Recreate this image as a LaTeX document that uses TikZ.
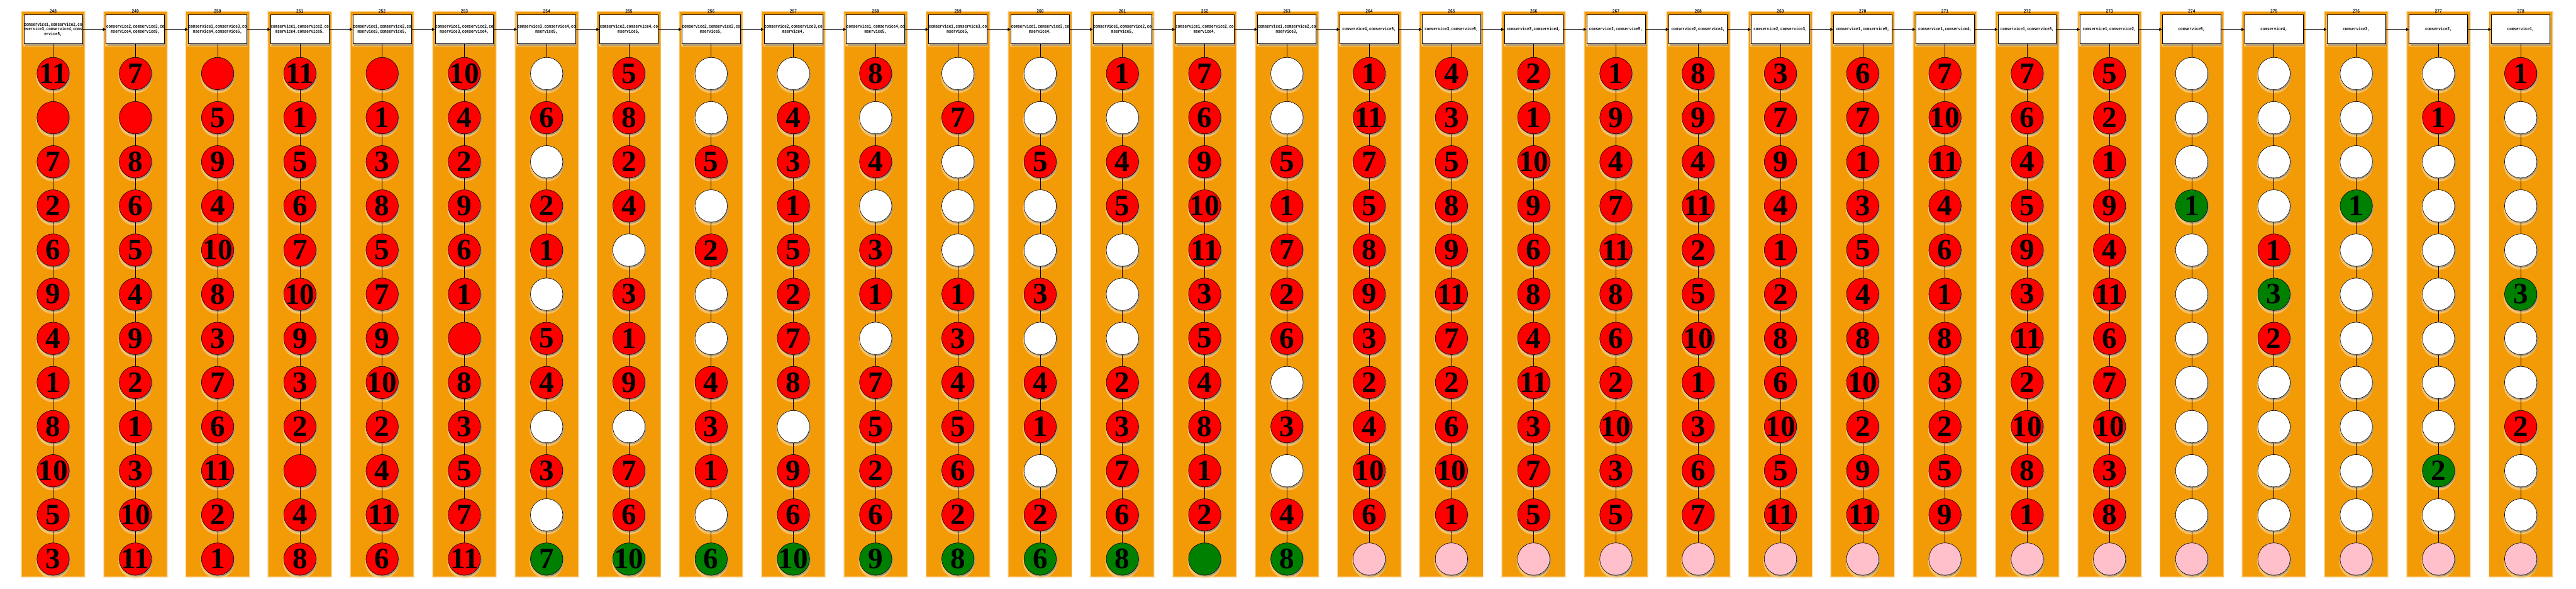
\documentclass[tikz,border=0pt]{standalone}
\usepackage{fontspec}
\usepackage{xcolor}
\usepackage{tikz}
\usetikzlibrary{arrows.meta, positioning, shadows}
\newfontfamily\hdrfont[FakeStretch=0.8]{Liberation Mono}
\newfontfamily\numfont{Liberation Serif}
\definecolor{bandorg}{RGB}{243,155,7}
\definecolor{rd}{RGB}{255,0,0}
\definecolor{wt}{RGB}{255,255,255}
\definecolor{gn}{RGB}{0,128,0}
\definecolor{pk}{RGB}{255,192,203}
\tikzset{
  hdrbox/.style={rectangle, draw=black, fill=white, line width=0.4pt,
    minimum width=1.59cm, minimum height=0.79cm, inner sep=0pt, align=center,
    font=\hdrfont\bfseries\fontsize{3.6}{3.7}\selectfont,
    general shadow={shadow scale=1.03, shadow yshift=-0.05cm, fill=bandorg!35!white, opacity=0.6},
    drop shadow={shadow xshift=0.03cm, shadow yshift=-0.05cm, opacity=0.55}},
  hdrnum/.style={font=\hdrfont\bfseries\fontsize{3.8}{4}\selectfont, inner sep=0pt},
  dot/.style={circle, draw=black, line width=0.3pt, minimum size=0.88cm, inner sep=0pt,
    general shadow={shadow scale=1.05, shadow yshift=-0.07cm, fill=bandorg!35!white, opacity=0.6},
    drop shadow={shadow xshift=0.03cm, shadow yshift=-0.04cm, opacity=0.6}},
  digit/.style={font=\numfont\bfseries\fontsize{23}{23}\selectfont, inner sep=0pt},
  link/.style={line width=0.3pt, black},
  nextarrow/.style={-{Triangle[length=0.08cm, width=0.08cm]}, line width=0.35pt, black}
}

\begin{document}
\begin{tikzpicture}
  \useasboundingbox (0,0) rectangle (70.08,-16);
  \foreach \hdr/\dotlist [count=\i from 0] in {
    {comservice1,comservice2,co\\mservice3,comservice4,coms\\ervice5,}/{rd/11,rd/,rd/7,rd/2,rd/6,rd/9,rd/4,rd/1,rd/8,rd/10,rd/5,rd/3},
    {comservice2,comservice3,co\\mservice4,comservice5,}/{rd/7,rd/,rd/8,rd/6,rd/5,rd/4,rd/9,rd/2,rd/1,rd/3,rd/10,rd/11},
    {comservice1,comservice3,co\\mservice4,comservice5,}/{rd/,rd/5,rd/9,rd/4,rd/10,rd/8,rd/3,rd/7,rd/6,rd/11,rd/2,rd/1},
    {comservice1,comservice2,co\\mservice4,comservice5,}/{rd/11,rd/1,rd/5,rd/6,rd/7,rd/10,rd/9,rd/3,rd/2,rd/,rd/4,rd/8},
    {comservice1,comservice2,co\\mservice3,comservice5,}/{rd/,rd/1,rd/3,rd/8,rd/5,rd/7,rd/9,rd/10,rd/2,rd/4,rd/11,rd/6},
    {comservice1,comservice2,co\\mservice3,comservice4,}/{rd/10,rd/4,rd/2,rd/9,rd/6,rd/1,rd/,rd/8,rd/3,rd/5,rd/7,rd/11},
    {comservice3,comservice4,co\\mservice5,}/{wt/,rd/6,wt/,rd/2,rd/1,wt/,rd/5,rd/4,wt/,rd/3,wt/,gn/7},
    {comservice2,comservice4,co\\mservice5,}/{rd/5,rd/8,rd/2,rd/4,wt/,rd/3,rd/1,rd/9,wt/,rd/7,rd/6,gn/10},
    {comservice2,comservice3,co\\mservice5,}/{wt/,wt/,rd/5,wt/,rd/2,wt/,wt/,rd/4,rd/3,rd/1,wt/,gn/6},
    {comservice2,comservice3,co\\mservice4,}/{wt/,rd/4,rd/3,rd/1,rd/5,rd/2,rd/7,rd/8,wt/,rd/9,rd/6,gn/10},
    {comservice1,comservice4,co\\mservice5,}/{rd/8,wt/,rd/4,wt/,rd/3,rd/1,wt/,rd/7,rd/5,rd/2,rd/6,gn/9},
    {comservice1,comservice3,co\\mservice5,}/{wt/,rd/7,wt/,wt/,wt/,rd/1,rd/3,rd/4,rd/5,rd/6,rd/2,gn/8},
    {comservice1,comservice3,co\\mservice4,}/{wt/,wt/,rd/5,wt/,wt/,rd/3,wt/,rd/4,rd/1,wt/,rd/2,gn/6},
    {comservice1,comservice2,co\\mservice5,}/{rd/1,wt/,rd/4,rd/5,wt/,wt/,wt/,rd/2,rd/3,rd/7,rd/6,gn/8},
    {comservice1,comservice2,co\\mservice4,}/{rd/7,rd/6,rd/9,rd/10,rd/11,rd/3,rd/5,rd/4,rd/8,rd/1,rd/2,gn/},
    {comservice1,comservice2,co\\mservice3,}/{wt/,wt/,rd/5,rd/1,rd/7,rd/2,rd/6,wt/,rd/3,wt/,rd/4,gn/8},
    {comservice4,comservice5,}/{rd/1,rd/11,rd/7,rd/5,rd/8,rd/9,rd/3,rd/2,rd/4,rd/10,rd/6,pk/},
    {comservice3,comservice5,}/{rd/4,rd/3,rd/5,rd/8,rd/9,rd/11,rd/7,rd/2,rd/6,rd/10,rd/1,pk/},
    {comservice3,comservice4,}/{rd/2,rd/1,rd/10,rd/9,rd/6,rd/8,rd/4,rd/11,rd/3,rd/7,rd/5,pk/},
    {comservice2,comservice5,}/{rd/1,rd/9,rd/4,rd/7,rd/11,rd/8,rd/6,rd/2,rd/10,rd/3,rd/5,pk/},
    {comservice2,comservice4,}/{rd/8,rd/9,rd/4,rd/11,rd/2,rd/5,rd/10,rd/1,rd/3,rd/6,rd/7,pk/},
    {comservice2,comservice3,}/{rd/3,rd/7,rd/9,rd/4,rd/1,rd/2,rd/8,rd/6,rd/10,rd/5,rd/11,pk/},
    {comservice1,comservice5,}/{rd/6,rd/7,rd/1,rd/3,rd/5,rd/4,rd/8,rd/10,rd/2,rd/9,rd/11,pk/},
    {comservice1,comservice4,}/{rd/7,rd/10,rd/11,rd/4,rd/6,rd/1,rd/8,rd/3,rd/2,rd/5,rd/9,pk/},
    {comservice1,comservice3,}/{rd/7,rd/6,rd/4,rd/5,rd/9,rd/3,rd/11,rd/2,rd/10,rd/8,rd/1,pk/},
    {comservice1,comservice2,}/{rd/5,rd/2,rd/1,rd/9,rd/4,rd/11,rd/6,rd/7,rd/10,rd/3,rd/8,pk/},
    {comservice5,}/{wt/,wt/,wt/,gn/1,wt/,wt/,wt/,wt/,wt/,wt/,wt/,pk/},
    {comservice4,}/{wt/,wt/,wt/,wt/,rd/1,gn/3,rd/2,wt/,wt/,wt/,wt/,pk/},
    {comservice3,}/{wt/,wt/,wt/,gn/1,wt/,wt/,wt/,wt/,wt/,wt/,wt/,pk/},
    {comservice2,}/{wt/,rd/1,wt/,wt/,wt/,wt/,wt/,wt/,wt/,gn/2,wt/,pk/},
    {comservice1,}/{rd/1,wt/,wt/,wt/,wt/,gn/3,wt/,wt/,rd/2,wt/,wt/,pk/}%
  }{
    \pgfmathsetmacro\cx{1.445+2.2377*\i}
    \pgfmathtruncatemacro\num{248+\i}
    % band, soft edge
    \fill[bandorg!25] (\cx-0.88,-0.30) rectangle (\cx+0.88,-15.70);
    \fill[bandorg!60] (\cx-0.865,-0.315) rectangle (\cx+0.865,-15.685);
    \fill[bandorg] (\cx-0.85,-0.33) rectangle (\cx+0.85,-15.67);
    \node[hdrbox] (h\i) at (\cx,-0.8) {\hdr};
    \node[hdrnum] (t\i) at (\cx,-0.31) {\num};
    \foreach \clr/\val [count=\k from 0] in \dotlist {
      \pgfmathtruncatemacro\kp{\k-1}
      \node[dot, fill=\clr] (d\i-\k) at (\cx,-2-1.2*\k) {};
      \node[digit] (n\i-\k) at (d\i-\k) {\val};
      \ifnum\k=0
        \draw[link] (h\i) -- (d\i-\k);
      \else
        \draw[link] (d\i-\kp) -- (d\i-\k);
      \fi
    }
  }
  \foreach \i [remember=\i as \j (initially 0)] in {1,...,30}
    \draw[nextarrow] (h\j) -- (h\i);
\end{tikzpicture}
\end{document}
